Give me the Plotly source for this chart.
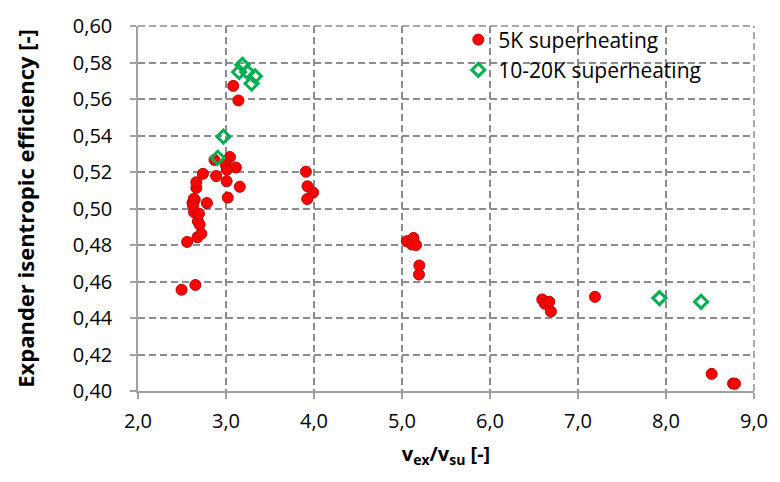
import plotly.graph_objects as go

# Volume ratio (v_ex/v_su) and isentropic efficiency, 5 K superheating runs
ratio_5k = [2.495, 2.652, 2.558, 2.675, 2.720, 2.680, 2.700, 2.637, 2.693, 2.619,
            2.783, 2.645, 2.633, 2.626, 2.663, 2.663, 2.738, 2.888, 2.869, 3.045,
            3.000, 3.112, 3.010, 3.007, 3.157, 3.020, 3.082, 3.141,
            3.908, 3.926, 3.990, 3.923,
            5.055, 5.130, 5.111, 5.159, 5.197, 5.193,
            6.594, 6.624, 6.673, 6.692, 7.193, 8.519, 8.762, 8.784]
eff_5k = [0.4555, 0.4581, 0.4817, 0.4842, 0.4862, 0.4930, 0.4912, 0.4980, 0.4972, 0.5030,
          0.5030, 0.5048, 0.5052, 0.5016, 0.5113, 0.5144, 0.5190, 0.5178, 0.5266, 0.5282,
          0.5236, 0.5225, 0.5212, 0.5149, 0.5119, 0.5060, 0.5672, 0.5592,
          0.5202, 0.5122, 0.5087, 0.5052,
          0.4821, 0.4839, 0.4803, 0.4800, 0.4688, 0.4638,
          0.4502, 0.4478, 0.4489, 0.4436, 0.4516, 0.4094, 0.4041, 0.4040]

# 10-20 K superheating runs
ratio_hi = [2.906, 2.970, 3.149, 3.186, 3.242, 3.328, 3.291, 7.925, 8.399]
eff_hi = [0.5278, 0.5394, 0.5748, 0.5787, 0.5748, 0.5725, 0.5685, 0.4509, 0.4489]

x_ticks = [2, 3, 4, 5, 6, 7, 8, 9]
y_ticks = [0.40, 0.42, 0.44, 0.46, 0.48, 0.50, 0.52, 0.54, 0.56, 0.58, 0.60]

FONT = "Open Sans"
GRID = "#8c8c8c"
AXIS = "#a0a0a0"

fig = go.Figure()
fig.add_trace(go.Scatter(
    x=ratio_5k, y=eff_5k, mode="markers", name="5K superheating",
    marker=dict(symbol="circle", size=11, color="#ff0000",
                line=dict(color="#c00000", width=1)),
))
fig.add_trace(go.Scatter(
    x=ratio_hi, y=eff_hi, mode="markers", name="10-20K superheating",
    marker=dict(symbol="diamond-open", size=10, color="#00b050",
                line=dict(color="#00b050", width=3)),
))

# dashed frame on the top and right edges, continuing the grid pattern
for x0, y0, x1, y1 in [(0, 1, 1, 1), (1, 0, 1, 1)]:
    fig.add_shape(type="line", xref="paper", yref="paper",
                  x0=x0, y0=y0, x1=x1, y1=y1,
                  line=dict(color=GRID, width=1.5, dash="7px,4px"), layer="below")

fig.update_layout(
    width=780, height=482,
    margin=dict(l=138, r=18, t=15, b=91),
    paper_bgcolor="white", plot_bgcolor="white",
    separators=",.",
    font=dict(family=FONT, size=20, color="#000000"),
    legend=dict(x=0.52, y=1.018, xanchor="left", yanchor="top",
                bgcolor="rgba(0,0,0,0)", font=dict(family=FONT, size=21),
                tracegroupgap=0),
    showlegend=True,
)
fig.update_xaxes(
    range=[2, 9], tickvals=x_ticks, tickformat=".1f",
    showgrid=True, gridcolor=GRID, gridwidth=1.5, griddash="7px,4px",
    showline=True, linecolor=AXIS, linewidth=1.5,
    ticks="outside", ticklen=6, tickcolor=AXIS, tickwidth=1.5,
    ticklabelstandoff=5,
    tickfont=dict(family=FONT, size=20),
    zeroline=False,
    title=dict(text="<b>v<sub>ex</sub>/v<sub>su</sub> [-]</b>",
               font=dict(family=FONT, size=20), standoff=14),
)
fig.update_yaxes(
    range=[0.40, 0.60], tickvals=y_ticks, tickformat=".2f",
    showgrid=True, gridcolor=GRID, gridwidth=1.5, griddash="7px,4px",
    showline=True, linecolor=AXIS, linewidth=1.5,
    ticks="outside", ticklen=6, tickcolor=AXIS, tickwidth=1.5,
    ticklabelstandoff=14,
    tickfont=dict(family=FONT, size=20),
    zeroline=False,
    title=dict(text="<b>Expander isentropic efficiency [-]</b>",
               font=dict(family=FONT, size=22), standoff=32),
)

fig.write_html("out.html")
